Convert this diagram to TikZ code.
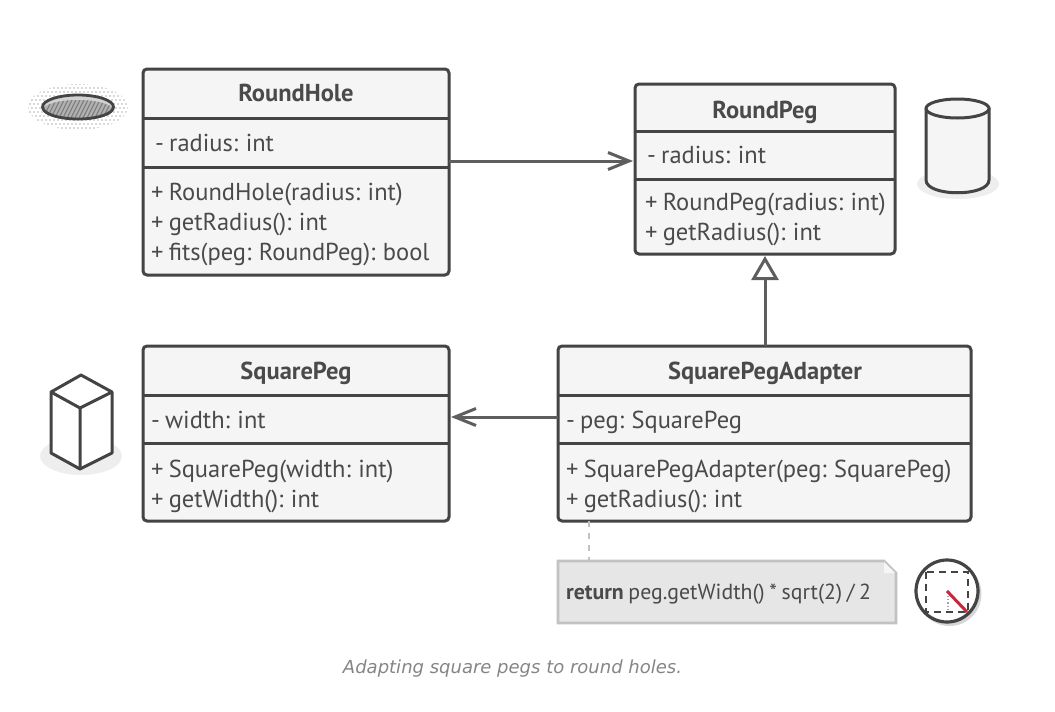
\documentclass[tikz,border=0pt]{standalone}
\usepackage{fontspec}
\setmainfont[WordSpace=0.8]{PT Sans}
\newfontfamily\capfont{DejaVu Sans}
\usetikzlibrary{arrows.meta,positioning,calc}
\definecolor{ink}{HTML}{444444}
\definecolor{txt}{HTML}{4A4A4A}
\definecolor{wire}{HTML}{5E5E5E}
\definecolor{panel}{HTML}{F5F5F5}
\definecolor{softshadow}{HTML}{EEEEEE}
\definecolor{notefill}{HTML}{E6E6E6}
\definecolor{noteline}{HTML}{C2C2C2}
\definecolor{redline}{HTML}{C8283C}
\tikzset{
  classbox/.style={draw=ink,fill=panel,line width=3pt,rounded corners=4pt,inner sep=0pt,outer sep=0pt,anchor=north west},
  divider/.style={draw=ink,line width=3pt},
  title/.style={font=\fontsize{24.5}{25}\selectfont\bfseries,text=txt,anchor=base,inner sep=0pt},
  member/.style={font=\fontsize{24.5}{25}\selectfont,text=txt,anchor=base west,inner sep=0pt},
  assoc/.style={draw=wire,line width=3pt,-{Straight Barb[length=21pt,width=17pt,line width=3pt]}},
  inherit/.style={draw=wire,line width=3pt,-{Triangle[open,length=24pt,width=27pt,line width=3pt,fill=white]}},
  icon/.style={draw=ink,line width=3pt,line join=round},
}
\begin{document}
\begin{tikzpicture}[x=1pt,y=-1pt]
\useasboundingbox (0,0) rectangle (1055,712);

% icons: hole
\begin{scope}
 \clip (78,107) ellipse (50 and 23);
 \foreach \yy in {0,...,11} {
  \foreach \xx in {0,...,25} {
   \fill[black!30] ({28+\xx*4+mod(\yy,2)*2},{84+\yy*4}) circle (0.8);
  }
 }
\end{scope}
\fill[black!18] (78,107) ellipse (35 and 11.5);
\begin{scope}
 \clip (78,110) ellipse (35 and 10);
 \fill[black!30] (40,90) rectangle (116,125);
 \foreach \xx in {0,...,24} {
  \draw[black!50,line width=1.2pt] ({30+\xx*4},120) -- ({42+\xx*4},96);
 }
\end{scope}
\draw[draw=ink,line width=2.8pt] (78,107) ellipse (35.5 and 12);

% icons: cylinder
\fill[softshadow] (958,184) ellipse (41 and 15);
\draw[icon,fill=panel] (926,180) .. controls (926,197) and (989,197) .. (989,180) -- (989,108) -- (926,108) -- cycle;
\draw[icon,fill=panel] (957.5,108.5) ellipse (31.5 and 9.5);

% icons: cube
\fill[softshadow] (81,456) ellipse (41 and 19);
\draw[icon,fill=white] (81,375) -- (112,392) -- (112,453) -- (80,469) -- (51,453) -- (51,392) -- cycle;
\draw[icon] (51,392) -- (80,408) -- (112,392) (80,408) -- (80,469);

% classes
\node[classbox,minimum width=306pt,minimum height=206pt] (rh) at (143,69) {};
\draw[divider] (rh.west |- 0,118) -- (rh.east |- 0,118);
\draw[divider] (rh.west |- 0,167) -- (rh.east |- 0,167);
\node[title] (rht) at (296,101) {RoundHole};
\node[member] (rha) at (155,151) {- radius: int};
\node[member] (rh1) at (151,200) {+ RoundHole(radius: int)};
\node[member] (rh2) at (151,230) {+ getRadius(): int};
\node[member] (rh3) at (151,260) {+ fits(peg: RoundPeg): bool};

\node[classbox,minimum width=260pt,minimum height=170pt] (rp) at (635,84) {};
\draw[divider] (rp.west |- 0,131) -- (rp.east |- 0,131);
\draw[divider] (rp.west |- 0,179) -- (rp.east |- 0,179);
\node[title] (rpt) at (765,118) {RoundPeg};
\node[member] (rpa) at (647,163) {- radius: int};
\node[member] (rp1) at (645,210) {+ RoundPeg(radius: int)};
\node[member] (rp2) at (645,240) {+ getRadius(): int};

\node[classbox,minimum width=306pt,minimum height=175pt] (sp) at (143,346) {};
\draw[divider] (sp.west |- 0,395) -- (sp.east |- 0,395);
\draw[divider] (sp.west |- 0,443) -- (sp.east |- 0,443);
\node[title] (spt) at (296,379) {SquarePeg};
\node[member] (spa) at (151,428) {- width: int};
\node[member] (sp1) at (151,477) {+ SquarePeg(width: int)};
\node[member] (sp2) at (151,507) {+ getWidth(): int};

\node[classbox,minimum width=413pt,minimum height=175pt] (ad) at (558,346) {};
\draw[divider] (ad.west |- 0,395) -- (ad.east |- 0,395);
\draw[divider] (ad.west |- 0,443) -- (ad.east |- 0,443);
\node[title] (adt) at (765,379) {SquarePegAdapter};
\node[member] (ada) at (566,428) {- peg: SquarePeg};
\node[member] (ad1) at (566,477) {+ SquarePegAdapter(peg: SquarePeg)};
\node[member] (ad2) at (566,507) {+ getRadius(): int};

% note
\node[inner sep=0pt,outer sep=0pt,minimum width=338pt,minimum height=62pt,anchor=north west] (nt) at (558,561) {};
\draw[draw=noteline,fill=notefill,line width=2.6pt] (nt.north west) -- ($(nt.north east)+(-12,0)$) -- ($(nt.north east)+(0,12)$) -- (nt.south east) -- (nt.south west) -- cycle;
\fill[white!85!noteline] ($(nt.north east)+(-12,1)$) -- ($(nt.north east)+(-1,12)$) -- ($(nt.north east)+(-12,12)$) -- cycle;
\node[font=\fontsize{21.8}{22}\selectfont,text=txt,anchor=base west,inner sep=0pt] (ntt) at (566,599) {\textbf{return} peg.getWidth() * sqrt(2) / 2};

% connectors
\coordinate (a1) at (540,161);
\coordinate (a2) at (504,417);
\coordinate (a3) at (765,300);
\coordinate (a4) at (589,540);
\draw[assoc,shorten >=2pt] (rh.east |- a1) -- (rp.west |- a1);
\draw[assoc,shorten >=2pt] (ad.west |- a2) -- (sp.east |- a2);
\draw[inherit,shorten >=2pt] (ad.north -| a3) -- (rp.south -| a3);
\draw[draw=noteline,line width=2.8pt,dash pattern=on 6pt off 6pt] (ad.south -| a4) -- (nt.north -| a4);

% circle icon
\fill[black!16] (949.5,594) circle (32);
\draw[draw=ink,fill=white,line width=3.2pt] (947,591) circle (31);
\draw[draw=ink,line width=2.8pt,dash pattern=on 7pt off 5pt] (926,572) rectangle (968,612);
\draw[draw=gray!70,line width=1.2pt,dotted] (948,596) -- (948,611);
\draw[draw=redline,line width=3pt] (947,591) -- (967,612);

% caption
\node[font=\capfont\itshape\fontsize{18}{18}\selectfont,text=black!48,anchor=base,inner sep=0pt] (cap) at (512.5,673) {Adapting square pegs to round holes.};
\end{tikzpicture}
\end{document}
